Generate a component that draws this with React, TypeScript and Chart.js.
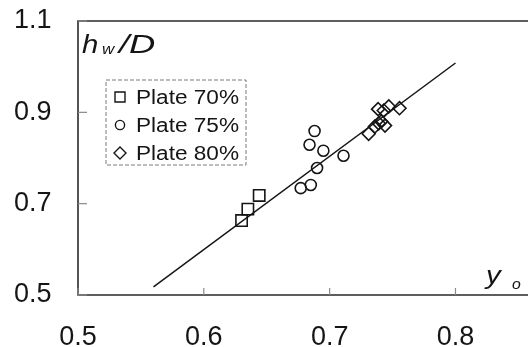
import { useEffect, useRef } from 'react';
import { Chart, registerables } from 'chart.js';

Chart.register(...registerables);

const X_TICKS = [0.5, 0.6, 0.7, 0.8];
const Y_TICKS = [0.5, 0.7, 0.9, 1.1];
const X_MIN = 0.5;
const X_MAX = 0.85;
const Y_MIN = 0.5;
const Y_MAX = 1.1;

const SERIES_LABELS = ['Plate 70%', 'Plate 75%', 'Plate 80%'];

const PLATE70_X = [0.63, 0.635, 0.644];
const PLATE70_Y = [0.663, 0.688, 0.718];

const PLATE75_X = [0.688, 0.684, 0.695, 0.711, 0.69, 0.677, 0.685];
const PLATE75_Y = [0.859, 0.829, 0.816, 0.805, 0.778, 0.734, 0.741];

const PLATE80_X = [0.731, 0.736, 0.739, 0.744, 0.741, 0.7385, 0.743, 0.747, 0.7555];
const PLATE80_Y = [0.853, 0.869, 0.876, 0.871, 0.88, 0.907, 0.904, 0.913, 0.909];

const FIT_X = [0.56, 0.8];
const FIT_Y = [0.518, 1.008];

const Y_TITLE = ['h', 'w', '/D'];
const X_TITLE = ['y', 'o'];

const FONT = '"Liberation Sans", Arial, Helvetica, sans-serif';
const INK = '#151515';
const STRETCH = 1.13;

function toPoints(xs: number[], ys: number[]) {
  return xs.map((x, i) => ({ x, y: ys[i] }));
}

function stretchedText(
  ctx: CanvasRenderingContext2D,
  text: string,
  x: number,
  y: number,
  font: string,
  stretch = STRETCH
) {
  ctx.save();
  ctx.font = font;
  ctx.translate(x, y);
  ctx.scale(stretch, 1);
  ctx.fillText(text, 0, 0);
  ctx.restore();
}

const decor = {
  id: 'decor',
  afterDraw(chart: any) {
    const { ctx, chartArea: a, scales } = chart;
    const xs = scales.x;
    const ys = scales.y;
    ctx.save();

    // frame (top, left, bottom)
    ctx.strokeStyle = '#2a2a2a';
    ctx.lineWidth = 1.6;
    ctx.beginPath();
    ctx.moveTo(chart.width, a.top);
    ctx.lineTo(a.left, a.top);
    ctx.lineTo(a.left, a.bottom);
    ctx.lineTo(chart.width, a.bottom);
    ctx.stroke();

    // inward ticks
    ctx.strokeStyle = '#8a8a8a';
    ctx.lineWidth = 1.2;
    X_TICKS.forEach((v) => {
      const px = xs.getPixelForValue(v);
      ctx.beginPath();
      ctx.moveTo(px, a.bottom);
      ctx.lineTo(px, a.bottom - 7);
      ctx.stroke();
    });
    Y_TICKS.forEach((v) => {
      const py = ys.getPixelForValue(v);
      ctx.beginPath();
      ctx.moveTo(a.left, py);
      ctx.lineTo(a.left + 9, py);
      ctx.stroke();
    });

    // legend box
    const lx = a.left + 28;
    const ly = a.top + 59;
    const lw = 140;
    const lh = 85;
    ctx.strokeStyle = '#7a7a7a';
    ctx.lineWidth = 1;
    ctx.setLineDash([4, 2]);
    ctx.strokeRect(lx, ly, lw, lh);
    ctx.setLineDash([]);

    ctx.fillStyle = INK;
    ctx.textBaseline = 'middle';
    ctx.textAlign = 'left';
    ctx.strokeStyle = INK;
    ctx.lineWidth = 1.4;
    SERIES_LABELS.forEach((label, i) => {
      const cy = ly + 17 + i * 28;
      const cx = lx + 14;
      ctx.beginPath();
      if (i === 0) {
        ctx.rect(cx - 5, cy - 5, 10, 10);
      } else if (i === 1) {
        ctx.arc(cx, cy, 4.6, 0, Math.PI * 2);
      } else {
        ctx.moveTo(cx - 6, cy);
        ctx.lineTo(cx, cy - 6);
        ctx.lineTo(cx + 6, cy);
        ctx.lineTo(cx, cy + 6);
        ctx.closePath();
      }
      ctx.stroke();
      stretchedText(ctx, label, lx + 30, cy + 1, `20px ${FONT}`);
    });

    // axis titles
    ctx.textBaseline = 'alphabetic';
    stretchedText(ctx, Y_TITLE[0], a.left + 4, a.top + 32, `italic 26px ${FONT}`);
    stretchedText(ctx, Y_TITLE[1], a.left + 24, a.top + 33, `italic 15px ${FONT}`);
    stretchedText(ctx, Y_TITLE[2], a.left + 41, a.top + 32, `italic 26px ${FONT}`, 1.4);
    stretchedText(ctx, X_TITLE[0], 486, a.bottom - 11, `italic 26px ${FONT}`);
    stretchedText(ctx, X_TITLE[1], 512, a.bottom - 6, `italic 14px ${FONT}`);

    ctx.restore();
  },
};

export default function App() {
  const ref = useRef<HTMLCanvasElement | null>(null);

  useEffect(() => {
    const canvas = ref.current;
    if (!canvas) return;
    const markerCommon = {
      type: 'scatter' as const,
      showLine: false,
      borderColor: INK,
      backgroundColor: 'rgba(0,0,0,0)',
      pointBorderWidth: 1.6,
    };
    const chart = new Chart(canvas, {
      type: 'scatter',
      data: {
        datasets: [
          {
            type: 'line',
            label: 'fit',
            data: toPoints(FIT_X, FIT_Y),
            borderColor: INK,
            borderWidth: 1.5,
            pointRadius: 0,
            fill: false,
          } as any,
          {
            ...markerCommon,
            label: SERIES_LABELS[0],
            data: toPoints(PLATE70_X, PLATE70_Y),
            pointStyle: 'rect',
            pointRadius: 8,
          },
          {
            ...markerCommon,
            label: SERIES_LABELS[1],
            data: toPoints(PLATE75_X, PLATE75_Y),
            pointStyle: 'circle',
            pointRadius: 5.5,
          },
          {
            ...markerCommon,
            label: SERIES_LABELS[2],
            data: toPoints(PLATE80_X, PLATE80_Y),
            pointStyle: 'rectRot',
            pointRadius: 6.5,
          },
        ],
      },
      options: {
        animation: false,
        responsive: false,
        devicePixelRatio: 1,
        layout: { padding: { left: 14, top: 21, right: 0, bottom: 0 } },
        plugins: { legend: { display: false }, tooltip: { enabled: false } },
        scales: {
          x: {
            type: 'linear',
            min: X_MIN,
            max: X_MAX,
            grid: { display: false, drawTicks: false },
            border: { display: false },
            afterBuildTicks: (s: any) => {
              s.ticks = X_TICKS.map((v) => ({ value: v }));
            },
            afterFit: (s: any) => {
              s.height = 52;
            },
            ticks: {
              padding: 26,
              color: INK,
              maxRotation: 0,
              font: { family: FONT, size: 27 },
              callback: (v: any) => Number(v).toFixed(1),
            },
          },
          y: {
            type: 'linear',
            min: Y_MIN,
            max: Y_MAX,
            grid: { display: false, drawTicks: false },
            border: { display: false },
            afterBuildTicks: (s: any) => {
              s.ticks = Y_TICKS.map((v) => ({ value: v }));
            },
            afterFit: (s: any) => {
              s.width = 64;
            },
            ticks: {
              crossAlign: 'far',
              color: INK,
              font: { family: FONT, size: 27 },
              callback: (v: any) => Number(v).toFixed(1),
            },
          },
        },
      },
      plugins: [decor],
    });
    return () => chart.destroy();
  }, []);

  return (
    <div style={{ position: 'fixed', left: 0, top: 0, width: 528, height: 347, background: '#fff' }}>
      <canvas ref={ref} width={528} height={347} style={{ width: 528, height: 347, display: 'block' }} />
    </div>
  );
}
